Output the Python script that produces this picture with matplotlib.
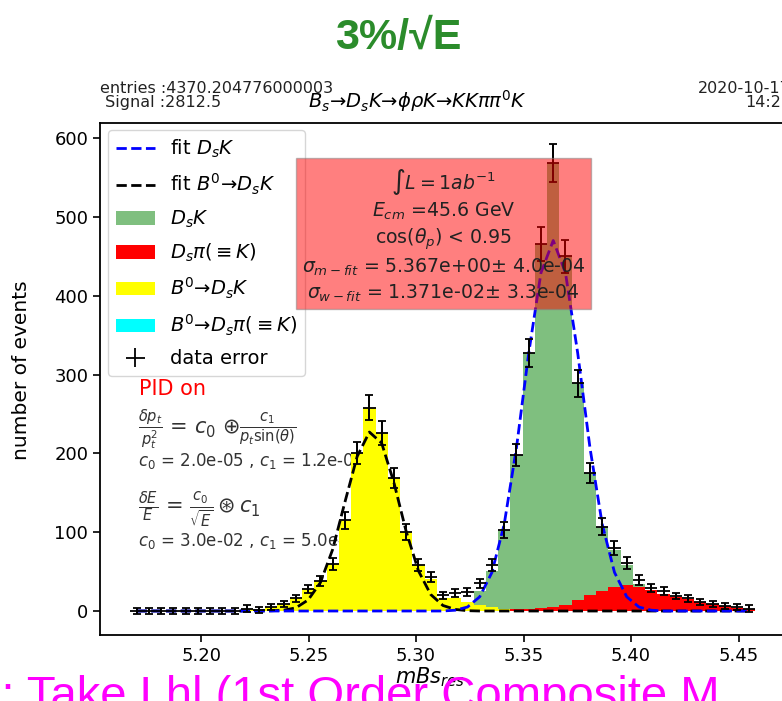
import numpy as np
import matplotlib.pyplot as plt

# bins of mBs_res
bin_lo = 5.170
bin_w = 0.0057
n_bins = 51

# data points (sum of all)
data_counts = [0, 0, 0, 0, 0, 0, 0, 0, 0, 3,
               1, 5, 9, 16, 28, 38, 60, 115, 200, 258,
               226, 169, 100, 58, 43, 20, 23, 24, 35, 58,
               103, 198, 327, 465, 568, 450, 289, 175, 107, 80,
               61, 39, 29, 25, 19, 16, 11, 9, 6, 5,
               3]
# components
ds_pi = [0] * 28 + [1, 1, 2, 2, 3, 4, 5, 8, 14, 20, 25, 30, 33, 31, 27, 22,
                    18, 15, 12, 9, 6, 4, 3]
ds_k = [0] * 24 + [1, 2, 5, 12, 25, 50, 101, 196, 324, 461, 563, 442, 275,
                   155, 82, 48, 25, 3] + [0] * 9
b0_ds_k = [0] * 9 + [3, 1, 5, 9, 16, 28, 38, 60, 115, 200, 258, 226, 169, 100,
                     58, 40, 17, 17, 11, 8, 5, 2] + [0] * 20
b0_ds_pi = [0] * n_bins
# fits
fit_ds_k = [0] * 26 + [1, 5, 18, 49, 110, 207, 327, 429, 470, 429, 327, 207,
                       110, 49, 18, 5, 1] + [0] * 8
fit_b0 = [0] * 11 + [0.3, 1, 4, 14, 36, 78, 138, 196, 227, 213, 163, 101, 51,
                     21, 7, 2, 0.4] + [0] * 23

centres = bin_lo + bin_w * np.arange(n_bins)
data_counts = np.array(data_counts, dtype=float)
ds_pi = np.array(ds_pi, dtype=float)
errs = np.sqrt(np.maximum(data_counts, 16))

fig = plt.figure(figsize=(7.82, 7.01), dpi=100)
ax = fig.add_axes([0.1279, 0.0942, 0.8836, 0.7303])

bar_pi = ax.bar(centres, ds_pi, width=bin_w, color='red', linewidth=0, label=r'$D_s\pi(\equiv K)$')
bar_k = ax.bar(centres, ds_k, width=bin_w, bottom=ds_pi, color='green', alpha=0.5,
               linewidth=0, label=r'$D_sK$')
bar_b0 = ax.bar(centres, b0_ds_k, width=bin_w, color='yellow', linewidth=0, label=r'$B^0$→$D_sK$')
bar_b0pi = ax.bar(centres, b0_ds_pi, width=bin_w, color='cyan', linewidth=0,
                  label=r'$B^0$→$D_s\pi(\equiv K)$')

l_b0, = ax.plot(centres, fit_b0, '--', color='black', lw=2, label=r'fit $B^0$→$D_sK$')
l_k, = ax.plot(centres, fit_ds_k, '--', color='blue', lw=2, label=r'fit $D_sK$')

# data: horizontal bin widths, vertical errors with caps
eb = ax.errorbar(centres, data_counts, xerr=bin_w / 2, yerr=errs, fmt='none', ecolor='black',
                 elinewidth=1.3, capsize=0, label='data error')
ax.errorbar(centres, data_counts, yerr=errs, fmt='none', ecolor='black',
            elinewidth=1.3, capsize=3, capthick=1.3)

ax.set_xlim(5.153, 5.4744)
ax.set_ylim(-30.4, 619)
ax.set_xticks([5.20, 5.25, 5.30, 5.35, 5.40, 5.45])
ax.set_xticklabels(['5.20', '5.25', '5.30', '5.35', '5.40', '5.45'])
ax.set_yticks(range(0, 700, 100))
ax.tick_params(labelsize=13, width=1.2, length=5)
for s in ax.spines.values():
    s.set_linewidth(1.3)

ax.set_xlabel(r'$mBs_{res}$', fontsize=15)
ax.xaxis.set_label_coords(0.478, -0.06)
ax.set_ylabel('number of events', fontsize=14.5)
ax.yaxis.set_label_coords(-0.1, 0.518)

ax.legend(handles=[l_k, l_b0, bar_k, bar_pi, bar_b0, bar_b0pi, eb], loc='upper left',
          bbox_to_anchor=(0.0116, 0.986), borderaxespad=0, fontsize=14,
          labelspacing=0.6, handlelength=2.0)

# resolution text
ax.text(0.057, 0.48, 'PID on', color='red', fontsize=15, transform=ax.transAxes, va='center')
ax.text(0.055, 0.40, r'$\frac{\delta p_t}{p_t^2}$ = $c_0$ $\oplus\frac{c_1}{p_t\sin(\theta)}$',
        fontsize=15, color='#333333', transform=ax.transAxes, va='center', zorder=0.5)
ax.text(0.055, 0.34, r'$c_0$ = 2.0e-05 , $c_1$ = 1.2e-03', fontsize=12, color='#333333',
        transform=ax.transAxes, va='center', zorder=0.5)
ax.text(0.055, 0.245, r'$\frac{\delta E}{E}$ = $\frac{c_0}{\sqrt{E}}\circledast c_1$',
        fontsize=15, color='#333333', transform=ax.transAxes, va='center', zorder=0.5)
ax.text(0.055, 0.183, r'$c_0$ = 3.0e-02 , $c_1$ = 5.0e-03', fontsize=12, color='#333333',
        transform=ax.transAxes, va='center', zorder=0.5)

box_lines = [r'$\int L = 1ab^{-1}$', r'$E_{cm}$ =45.6 GeV', r'cos($\theta_p$) < 0.95',
             r'$\sigma_{m-fit}$ = 5.367e+00± 4.0e-04', r'$\sigma_{w-fit}$ = 1.371e-02± 3.3e-04']
ax.text(0.497, 0.781, '\n'.join(box_lines), transform=ax.transAxes, ha='center', va='center',
        fontsize=13.6, linespacing=1.27, color='#222222', zorder=6,
        bbox=dict(boxstyle='square,pad=0.3', facecolor='red', edgecolor='gray', alpha=0.5))

# header texts
fig.text(0.128, 0.884, 'entries :4370.204776000003\n Signal :2812.5', fontsize=11.5, va='top',
         color='#222222', linespacing=0.9)
fig.text(1.0115, 0.884, '2020-10-17\n14:23', fontsize=11.5, va='top', ha='right',
         multialignment='right', color='#222222', linespacing=0.9)
fig.text(0.534, 0.856, r'$B_s$→$D_sK$→$\phi\rho K$→$KK\pi\pi^0K$', fontsize=14,
         ha='center', va='center')
fig.text(0.509, 0.946, '3%/√E', fontsize=31, fontweight='bold', color='#2b8c2b',
         family=['Liberation Sans', 'DejaVu Sans'], ha='center', va='center')
fig.text(-0.012, -0.012, 'l: Take Lhl (1st Order Composite M', fontsize=34, color='magenta',
         family=['Liberation Sans', 'DejaVu Sans'], ha='left', va='baseline')

fig.savefig('out.png', dpi=100)
